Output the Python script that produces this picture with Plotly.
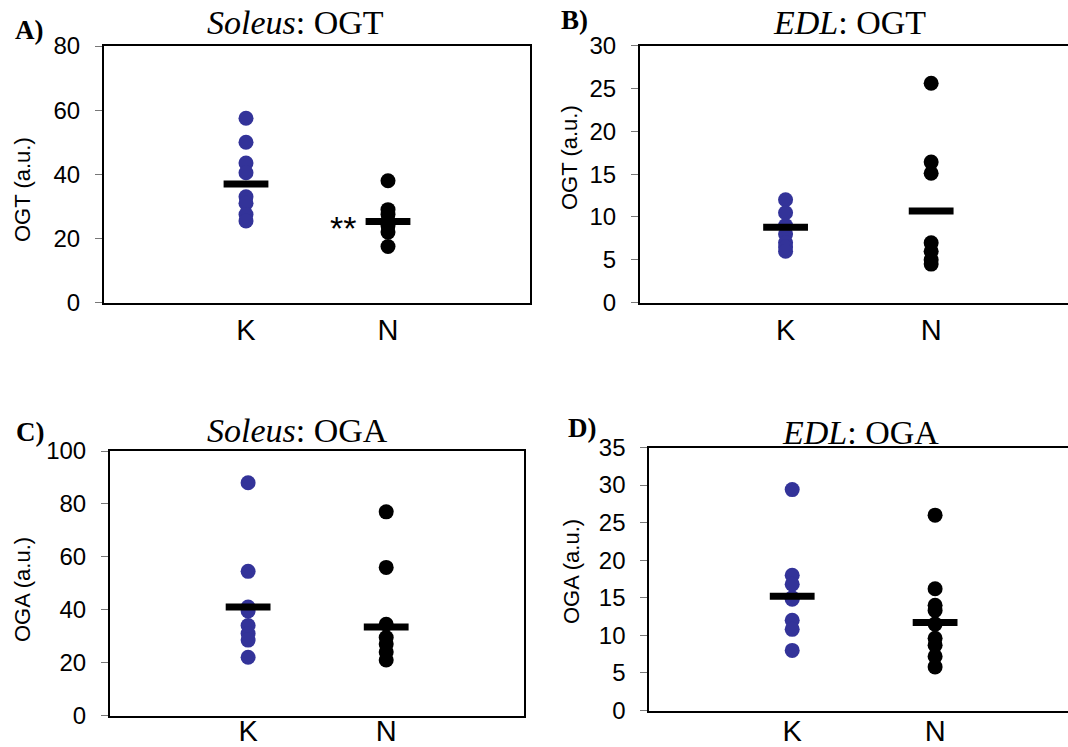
import plotly.graph_objects as go

# ---------------- data ----------------
categories = ["K", "N"]

a_k = [57.5, 50, 43.5, 40.5, 33, 31, 27.5, 25.5]
a_n = [38, 29, 27.5, 25.5, 24, 22, 17.5]
a_bar = [37, 25.3]

b_k = [12, 10.5, 9, 8, 7, 6.5, 6]
b_n = [25.6, 16.4, 15.1, 7, 6, 5, 4.5]
b_bar = [8.8, 10.7]

c_k = [88, 54.5, 41, 39.5, 34, 31, 28.5, 22]
c_n = [77, 56, 34.5, 29.5, 27, 24, 21]
c_bar = [41, 33.5]

d_k = [29.4, 18, 16.8, 15, 14.8, 12, 10.8, 8]
d_n = [26, 16.2, 14, 13.3, 11.5, 9.6, 8.7, 7.2, 5.8]
d_bar = [15.2, 11.7]

titles = ["<i>Soleus</i>: OGT", "<i>EDL</i>: OGT", "<i>Soleus</i>: OGA", "<i>EDL</i>: OGA"]
letters = ["A)", "B)", "C)", "D)"]
ylabels = ["OGT (a.u.)", "OGT (a.u.)", "OGA (a.u.)", "OGA (a.u.)"]
yranges = [(0, 80, 20), (0, 30, 5), (0, 100, 20), (0, 35, 5)]

BLUE = "#333399"
SANS = "Arial, Liberation Sans, sans-serif"
SERIF = "Times New Roman, Liberation Serif, serif"

W, H = 1068, 747
# panel geometry in pixels: left, right, top, bottom, x-range max
panels = [
    (104, 530, 46, 302.7, 3.0),
    (640, 1068, 45.5, 302.7, 2.94),
    (110, 524.3, 451, 715.5, 3.0),
    (649.3, 1068, 447.5, 710.5, 2.93),
]
full_box = [True, False, True, False]
xlabel_standoff = [0, 0, -11, -6]

data_sets = [(a_k, a_n, a_bar), (b_k, b_n, b_bar), (c_k, c_n, c_bar), (d_k, d_n, d_bar)]

fig = go.Figure()
layout = dict(width=W, height=H, margin=dict(l=0, r=0, t=0, b=0, autoexpand=False),
              paper_bgcolor="white", plot_bgcolor="white", showlegend=False)

for i, (k_vals, n_vals, bars) in enumerate(data_sets):
    idx = "" if i == 0 else str(i + 1)
    xa, ya = "x" + idx, "y" + idx
    l, r, t, b, xmax = panels[i]
    ymin, ymax, dt = yranges[i]
    fig.add_trace(go.Scatter(x=[1] * len(k_vals), y=k_vals, mode="markers",
                             marker=dict(color=BLUE, size=15), xaxis=xa, yaxis=ya,
                             cliponaxis=False))
    fig.add_trace(go.Scatter(x=[2] * len(n_vals), y=n_vals, mode="markers",
                             marker=dict(color="black", size=15), xaxis=xa, yaxis=ya,
                             cliponaxis=False))
    fig.add_trace(go.Scatter(x=[1, 2], y=bars, mode="markers",
                             marker=dict(symbol="line-ew", size=32,
                                         line=dict(color="black", width=7)),
                             xaxis=xa, yaxis=ya, cliponaxis=False))
    layout["xaxis" + idx] = dict(
        domain=[l / W, r / W], range=[0, xmax], anchor=ya, automargin=False,
        tickvals=[1, 2], ticktext=categories, ticks="",
        ticklabelstandoff=xlabel_standoff[i],
        tickfont=dict(family=SANS, size=29, color="black"),
        showline=True, linecolor="black", linewidth=2, mirror=True,
        showgrid=False, zeroline=False, fixedrange=True)
    layout["yaxis" + idx] = dict(
        domain=[1 - b / H, 1 - t / H], range=[ymin, ymax], anchor=xa, automargin=False,
        tick0=0, dtick=dt, ticks="outside", ticklen=7, tickcolor="#777777", tickwidth=1,
        ticklabelstandoff=10,
        tickfont=dict(family=SANS, size=24, color="black"),
        showline=True, linecolor="black", linewidth=2, mirror=full_box[i],
        showgrid=False, zeroline=False, fixedrange=True)

fig.update_layout(**layout)

# y-axis titles
ylabel_pos = [(22, 190), (570, 158), (22, 590), (571, 572)]
for (x, y), txt in zip(ylabel_pos, ylabels):
    fig.add_annotation(x=x / W, y=1 - y / H, xref="paper", yref="paper", text=txt,
                       textangle=-90, showarrow=False,
                       font=dict(family=SANS, size=22, color="black"),
                       xanchor="center", yanchor="middle")

# panel titles
title_pos = [(295, 22), (850, 22), (297, 430), (860, 432)]
for (x, y), txt in zip(title_pos, titles):
    fig.add_annotation(x=x / W, y=1 - y / H, xref="paper", yref="paper", text=txt,
                       showarrow=False, font=dict(family=SERIF, size=34, color="black"),
                       xanchor="center", yanchor="middle")

letter_pos = [(29, 30), (574, 20), (30, 432), (582, 428)]
for (x, y), txt in zip(letter_pos, letters):
    fig.add_annotation(x=x / W, y=1 - y / H, xref="paper", yref="paper", text="<b>" + txt + "</b>",
                       showarrow=False, font=dict(family=SERIF, size=27, color="black"),
                       xanchor="center", yanchor="middle")

# significance marker
fig.add_annotation(x=1.68, y=a_bar[1], xref="x", yref="y", text="**", showarrow=False,
                   font=dict(family=SANS, size=34, color="black"), xanchor="center",
                   yanchor="middle", yshift=-6)

fig.write_html("out.html", config={"displayModeBar": False},
               post_script="document.body.style.margin='0';document.body.style.overflow='hidden';")
